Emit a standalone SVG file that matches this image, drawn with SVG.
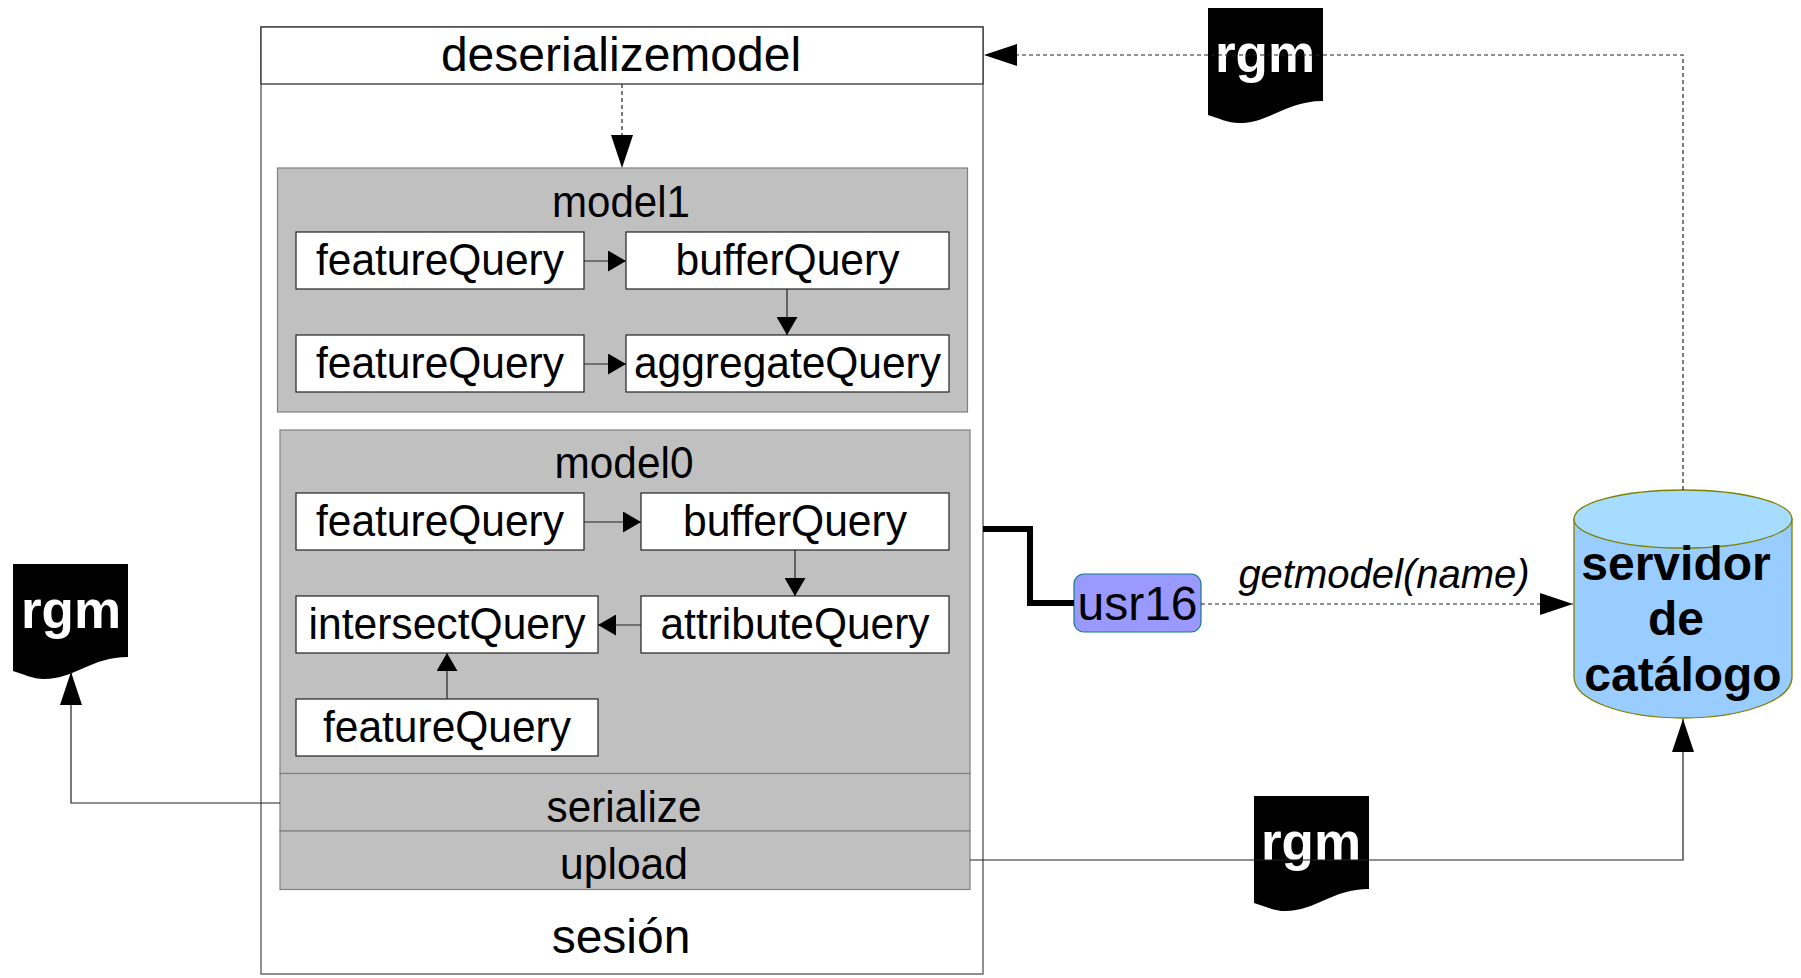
<svg xmlns="http://www.w3.org/2000/svg" width="1801" height="978" viewBox="0 0 1801 978">
<style>
text{font-family:"Liberation Sans",Arial,sans-serif;font-size:44px;fill:#000;text-anchor:middle}
.big{font-size:48px}
.bold{font-weight:bold;font-size:48px}
.box{fill:#fff;stroke:#222;stroke-width:1.2}
.grey{fill:#c0c0c0;stroke:#808080;stroke-width:1.2}
.c{fill:none;stroke:#222;stroke-width:1.2}
.d{fill:none;stroke:#222;stroke-width:1.2;stroke-dasharray:4 3}
.doc{fill:#000}
.rgm{font-weight:bold;fill:#fff;font-size:53px}
</style>
<defs>
<marker id="a" viewBox="0 0 10 10" refX="10" refY="5" markerUnits="userSpaceOnUse" markerWidth="18" markerHeight="21" orient="auto" preserveAspectRatio="none"><path d="M0 0L10 5L0 10z" fill="#000"/></marker>
<marker id="b" viewBox="0 0 10 10" refX="10" refY="5" markerUnits="userSpaceOnUse" markerWidth="33" markerHeight="22" orient="auto" preserveAspectRatio="none"><path d="M0 0L10 5L0 10z" fill="#000"/></marker>
<path id="docshape" d="M0 0H115V93C78 93 62 115 31 115C20 115 10 110 0 107Z"/>
</defs>
<g id="sesion"><rect x="261" y="27" width="722" height="947" fill="#fff" stroke="#555" stroke-width="1.3"/><text class="big" x="621" y="953">sesión</text></g>
<g id="deserializemodel"><rect x="261" y="27" width="722" height="57" fill="#fff" stroke="#333" stroke-width="1.3"/><text class="big" x="621" y="71">deserializemodel</text></g>
<g id="model1"><rect class="grey" x="277.500" y="168" width="690" height="244"/><text x="621" y="217" textLength="138" lengthAdjust="spacingAndGlyphs">model1</text></g>
<g id="model1-feature1"><rect class="box" x="296" y="232" width="288" height="57"/><text x="440" y="275" textLength="248" lengthAdjust="spacingAndGlyphs">featureQuery</text></g>
<g id="model1-buffer"><rect class="box" x="626" y="232" width="323" height="57"/><text x="787.500" y="275" textLength="224" lengthAdjust="spacingAndGlyphs">bufferQuery</text></g>
<g id="model1-feature2"><rect class="box" x="296" y="335" width="288" height="57"/><text x="440" y="378" textLength="248" lengthAdjust="spacingAndGlyphs">featureQuery</text></g>
<g id="model1-aggregate"><rect class="box" x="626" y="335" width="323" height="57"/><text x="787.500" y="378" textLength="307" lengthAdjust="spacingAndGlyphs">aggregateQuery</text></g>
<g id="model0"><rect class="grey" x="280" y="430" width="690" height="343.500"/><text x="624" y="478" textLength="139" lengthAdjust="spacingAndGlyphs">model0</text></g>
<g id="model0-feature1"><rect class="box" x="296" y="493" width="288" height="57"/><text x="440" y="536" textLength="248" lengthAdjust="spacingAndGlyphs">featureQuery</text></g>
<g id="model0-buffer"><rect class="box" x="641" y="493" width="308" height="57"/><text x="795" y="536" textLength="224" lengthAdjust="spacingAndGlyphs">bufferQuery</text></g>
<g id="model0-attribute"><rect class="box" x="641" y="596" width="308" height="57"/><text x="795" y="639" textLength="269" lengthAdjust="spacingAndGlyphs">attributeQuery</text></g>
<g id="model0-intersect"><rect class="box" x="296" y="596" width="302" height="57"/><text x="447" y="639" textLength="277" lengthAdjust="spacingAndGlyphs">intersectQuery</text></g>
<g id="model0-feature2"><rect class="box" x="296" y="699" width="302" height="57"/><text x="447" y="742" textLength="248" lengthAdjust="spacingAndGlyphs">featureQuery</text></g>
<g id="serialize"><rect class="grey" x="280" y="773.500" width="690" height="57.500"/><text x="624" y="822" textLength="155" lengthAdjust="spacingAndGlyphs">serialize</text></g>
<g id="upload"><rect class="grey" x="280" y="831" width="690" height="58.500"/><text x="624" y="879" textLength="128" lengthAdjust="spacingAndGlyphs">upload</text></g>
<g id="usr16"><rect x="1074" y="574" width="127" height="58" rx="10" fill="#9999ff" stroke="#1a7a8a" stroke-width="1.2"/><text class="big" x="1137.500" y="620">usr16</text></g>
<g id="servidor"><path d="M1574 519V677C1574 701 1625 718 1683 718C1741 718 1792 701 1792 677V519Z" fill="#99ccff" stroke="#808000" stroke-width="1.3"/><ellipse cx="1683" cy="519" rx="109" ry="29" fill="#a6dcff" stroke="#808000" stroke-width="1.3"/><text class="bold" x="1676" y="580">servidor</text><text class="bold" x="1676" y="635">de</text><text class="bold" x="1683" y="691">catálogo</text></g>
<g id="rgm-top"><use href="#docshape" class="doc" x="1208" y="8"/><text class="rgm" x="1265" y="72">rgm</text></g>
<g id="rgm-left"><use href="#docshape" class="doc" x="13" y="564"/><text class="rgm" x="71" y="628">rgm</text></g>
<g id="rgm-bottom"><use href="#docshape" class="doc" x="1254" y="796"/><text class="rgm" x="1311" y="860">rgm</text></g>
<text x="1384" y="588" style="font-style:italic;font-size:40px">getmodel(name)</text>
<g id="connectors">
<path class="d" d="M622 84V168" marker-end="url(#b)"/>
<path class="c" d="M584 261H626" marker-end="url(#a)"/>
<path class="c" d="M787 289V335" marker-end="url(#a)"/>
<path class="c" d="M584 364H626" marker-end="url(#a)"/>
<path class="c" d="M584 522H641" marker-end="url(#a)"/>
<path class="c" d="M795 550V596" marker-end="url(#a)"/>
<path class="c" d="M641 625H598" marker-end="url(#a)"/>
<path class="c" d="M447 699V653" marker-end="url(#a)"/>
<path d="M983 529H1030V603H1074" fill="none" stroke="#000" stroke-width="6"/>
<path class="d" d="M1201 604H1573" marker-end="url(#b)"/>
<path class="d" d="M1683 490V55H1208"/>
<path class="d" d="M1208 55H984" marker-end="url(#b)"/>
<path class="c" d="M280 803H71V672" marker-end="url(#b)"/>
<path class="c" d="M970 860H1683V719" marker-end="url(#b)"/>
</g>
</svg>
